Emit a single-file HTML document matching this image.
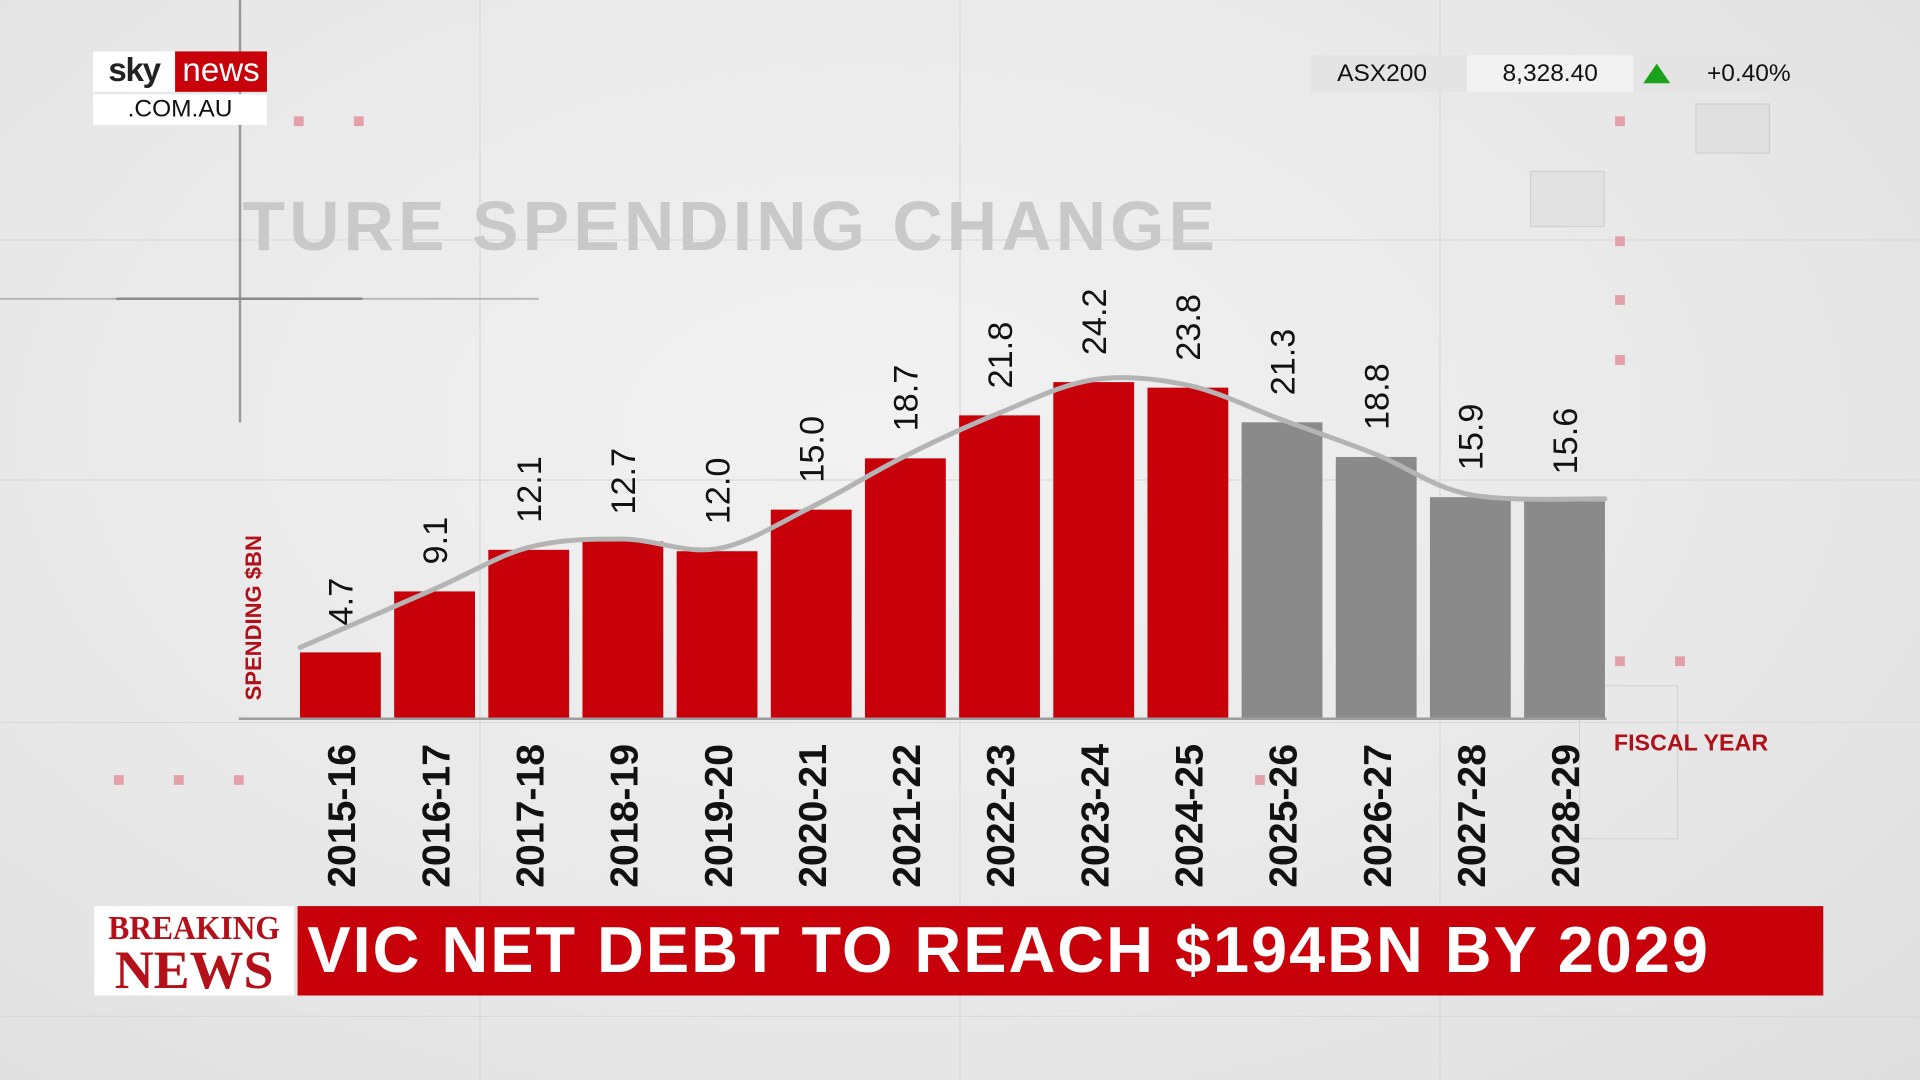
<!DOCTYPE html>
<html><head><meta charset="utf-8">
<style>
html,body{margin:0;padding:0;width:1920px;height:1080px;overflow:hidden;}
body{background:#e9e9e9;font-family:"Liberation Sans",sans-serif;}
#stage{position:absolute;left:0;top:0;width:1568px;height:882px;transform:scale(1.2244898);transform-origin:0 0;
background:radial-gradient(ellipse at 45% 40%,#f2f2f2 0%,#e8e8e8 60%,#dedede 100%);overflow:hidden;}
.abs{position:absolute;}
</style></head><body>
<div id="stage">
<svg class="abs" style="left:0;top:0" width="1568" height="882">
 <g stroke="#d9d9d9" stroke-width="1">
  <line x1="0" y1="196" x2="1568" y2="196"/><line x1="0" y1="392" x2="1568" y2="392"/>
  <line x1="0" y1="590" x2="1568" y2="590"/><line x1="0" y1="830" x2="1568" y2="830"/>
  <line x1="392" y1="0" x2="392" y2="882"/><line x1="784" y1="0" x2="784" y2="882"/><line x1="1176" y1="0" x2="1176" y2="882"/>
 </g>
 <line x1="196" y1="0" x2="196" y2="345" stroke="#9a9a9a" stroke-width="2"/>
 <line x1="0" y1="244" x2="440" y2="244" stroke="#b5b5b5" stroke-width="1.5"/>
 <line x1="95" y1="244" x2="296" y2="244" stroke="#8a8a8a" stroke-width="2"/>
 <g fill="#e3a0a8">
  <rect x="240" y="95" width="8" height="8"/><rect x="289" y="95" width="8" height="8"/>
  <rect x="1319" y="95" width="8" height="8"/><rect x="1319" y="193" width="8" height="8"/>
  <rect x="1319" y="241" width="8" height="8"/><rect x="1319" y="290" width="8" height="8"/>
  <rect x="1319" y="536" width="8" height="8"/><rect x="1368" y="536" width="8" height="8"/>
  <rect x="93" y="633" width="8" height="8"/><rect x="142" y="633" width="8" height="8"/><rect x="191" y="633" width="8" height="8"/>
  <rect x="1025" y="633" width="8" height="8"/>
 </g>
 <rect x="1385" y="85" width="60" height="40" fill="#e0e0e0" stroke="#d0d0d0"/>
 <rect x="1250" y="140" width="60" height="45" fill="#e2e2e2" stroke="#d0d0d0"/>
 <rect x="1290" y="560" width="80" height="125" fill="none" stroke="#d3d3d3"/>
</svg>

<div class="abs" style="left:76px;top:42px;width:142px;height:60px;">
 <div class="abs" style="left:0;top:0;width:67px;height:33px;background:#fff;font-weight:bold;font-size:27px;line-height:31px;text-align:center;color:#222;letter-spacing:-1px">sky</div>
 <div class="abs" style="left:67px;top:0;width:75px;height:33px;background:#c8000a;font-size:27px;line-height:31px;text-align:center;color:#fff;">news</div>
 <div class="abs" style="left:0;top:35px;width:142px;height:25px;background:#fff;font-size:20px;line-height:25px;text-align:center;color:#111;">.COM.AU</div>
</div>

<div class="abs" style="left:1070px;top:45px;width:421px;height:30px;background:#e4e4e4;font-size:20px;line-height:30px;color:#111;">
 <span class="abs" style="left:22px">ASX200</span>
 <div class="abs" style="left:128px;top:0;width:136px;height:30px;background:#f2f2f2;text-align:center">8,328.40</div>
 <svg class="abs" style="left:271px;top:6px" width="24" height="18"><polygon points="12,1 23,17 1,17" fill="#1aa01a"/></svg>
 <span class="abs" style="left:324px">+0.40%</span>
</div>

<div class="abs" style="left:198px;top:152px;font-size:57px;font-weight:bold;color:#c9c9c9;white-space:nowrap;letter-spacing:3.3px">TURE SPENDING CHANGE</div>

<svg id="chart" class="abs" style="left:0;top:0" width="1568" height="882"></svg>

<div class="abs" style="left:1318px;top:597px;font-size:19px;font-weight:bold;color:#b0101a;">FISCAL YEAR</div>

<div class="abs" style="left:77px;top:740px;width:163px;height:73px;background:#fff;text-align:center;color:#b3101a;font-family:'Liberation Serif',serif;font-weight:bold;">
 <div style="font-size:28px;line-height:30px;margin-top:4px;transform:scaleX(0.92)">BREAKING</div>
 <div style="font-size:44px;line-height:38px;">NEWS</div>
</div>
<div class="abs" style="left:243px;top:740px;width:1246px;height:73px;background:#c8000a;color:#fff;font-weight:bold;font-size:53px;line-height:73px;white-space:nowrap;">
 <span style="margin-left:8px;letter-spacing:1.6px">VIC NET DEBT TO REACH $194BN BY 2029</span>
</div>
</div>

<script>
const categories=["2015-16","2016-17","2017-18","2018-19","2019-20","2020-21","2021-22","2022-23","2023-24","2024-25","2025-26","2026-27","2027-28","2028-29"];
const values=[4.7,9.1,12.1,12.7,12.0,15.0,18.7,21.8,24.2,23.8,21.3,18.8,15.9,15.6];
const valueLabels=["4.7","9.1","12.1","12.7","12.0","15.0","18.7","21.8","24.2","23.8","21.3","18.8","15.9","15.6"];
const forecastFrom=10;

const NS="http://www.w3.org/2000/svg";
const svg=document.getElementById('chart');
const baseY=586, pxPerUnit=11.32, x0=245, pitch=76.9, barW=66;
const xPos=i=>x0+i*pitch;
const yPos=v=>baseY-v*pxPerUnit;
function mk(tag,attrs){const e=document.createElementNS(NS,tag);for(const k in attrs)e.setAttribute(k,attrs[k]);svg.appendChild(e);return e;}

const axis=mk('line',{x1:195,y1:baseY+1,x2:1312,y2:baseY+1,stroke:'#9d9d9d','stroke-width':2});



values.forEach((v,i)=>{
  const r=mk('rect',{x:xPos(i),y:yPos(v),width:barW,height:baseY-yPos(v),fill:i>=forecastFrom?'#8a8a8a':'#c8000a'});
  
  
  const cx=xPos(i)+barW/2;
  const t=mk('text',{x:0,y:0,transform:`translate(${cx+10},${yPos(v)-22}) rotate(-90)`,'font-size':28,fill:'#111','font-family':'Liberation Sans, sans-serif'});
  t.textContent=valueLabels[i];
  
  
  const c=mk('text',{x:0,y:0,transform:`translate(${cx+12},725) rotate(-90)`,'font-size':32,'font-weight':'bold',fill:'#111','font-family':'Liberation Sans, sans-serif'});
  c.textContent=categories[i];
  
  
});

const pts=values.map((v,i)=>[xPos(i)+barW/2,yPos(v)-2]);
pts[0]=[xPos(0),yPos(values[0])-4];
pts[pts.length-1]=[xPos(values.length-1)+barW,yPos(values[values.length-1])-2];
let d=`M${pts[0][0]},${pts[0][1]}`;
for(let i=0;i<pts.length-1;i++){
  const p0=pts[Math.max(0,i-1)],p1=pts[i],p2=pts[i+1],p3=pts[Math.min(pts.length-1,i+2)];
  const c1=[p1[0]+(p2[0]-p0[0])/6,p1[1]+(p2[1]-p0[1])/6];
  const c2=[p2[0]-(p3[0]-p1[0])/6,p2[1]-(p3[1]-p1[1])/6];
  d+=` C${c1[0]},${c1[1]} ${c2[0]},${c2[1]} ${p2[0]},${p2[1]}`;
}
const line=mk('path',{d:d,fill:'none',stroke:'#b4b4b4','stroke-width':4,'stroke-linecap':'round'});



const yt=mk('text',{x:0,y:0,transform:'translate(213,572) rotate(-90)','font-size':18,'font-weight':'bold',fill:'#b0101a','font-family':'Liberation Sans, sans-serif'});
yt.textContent='SPENDING $BN';


</script>
</body></html>
